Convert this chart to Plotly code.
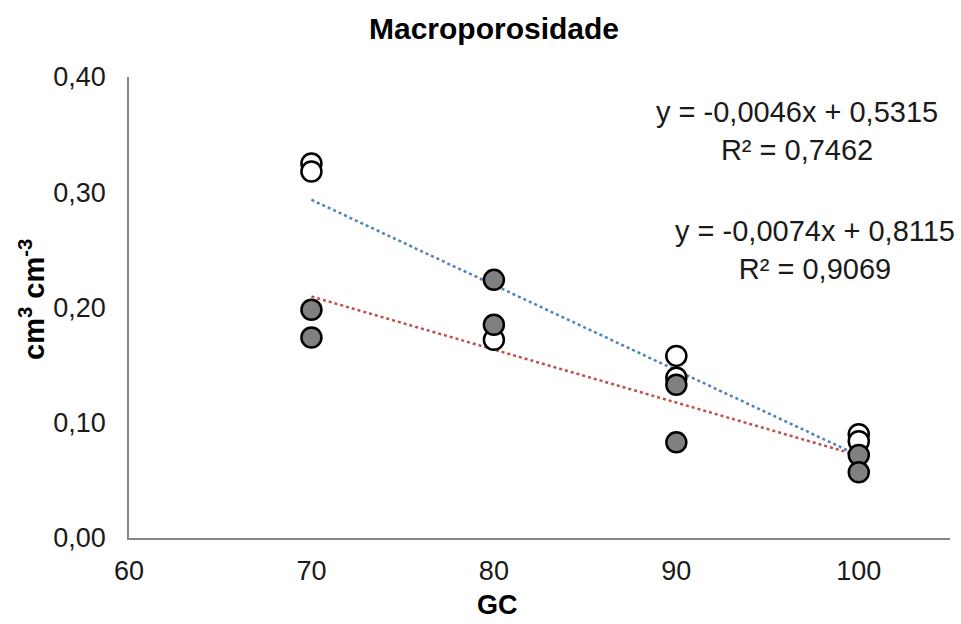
import plotly.graph_objects as go

# Data
gc_open = [70, 70, 80, 90, 90, 100, 100]
macro_open = [0.325, 0.318, 0.172, 0.158, 0.139, 0.090, 0.084]
gc_filled = [70, 70, 80, 80, 90, 90, 100, 100]
macro_filled = [0.198, 0.174, 0.224, 0.185, 0.133, 0.083, 0.072, 0.057]

# Trendline coefficients (from the chart's equations)
trend_x = [70, 100]
blue_slope, blue_intercept = -0.0074, 0.8115
red_slope, red_intercept = -0.0046, 0.5315

eq_red = "y = -0,0046x + 0,5315<br>R² = 0,7462"
eq_blue = "y = -0,0074x + 0,8115<br>R² = 0,9069"

x_ticks = [60, 70, 80, 90, 100]
y_ticks = [0.0, 0.1, 0.2, 0.3, 0.4]
y_tick_labels = ["0,00", "0,10", "0,20", "0,30", "0,40"]

FONT = "Liberation Sans, Arial, sans-serif"
L, R, T, B = 129, 11, 77, 86
W, H = 961, 624
PW, PH = W - L - R, H - T - B

fig = go.Figure()

fig.add_trace(go.Scatter(
    x=trend_x, y=[blue_slope * v + blue_intercept for v in trend_x],
    mode="lines", line=dict(color="#4F81BD", width=2.5, dash="dot"),
    showlegend=False, hoverinfo="skip"))
fig.add_trace(go.Scatter(
    x=trend_x, y=[red_slope * v + red_intercept for v in trend_x],
    mode="lines", line=dict(color="#C0504D", width=2.5, dash="dot"),
    showlegend=False, hoverinfo="skip"))

fig.add_trace(go.Scatter(
    x=gc_open, y=macro_open, mode="markers",
    marker=dict(size=20, color="white", line=dict(color="black", width=2.5)),
    showlegend=False))
fig.add_trace(go.Scatter(
    x=gc_filled, y=macro_filled, mode="markers",
    marker=dict(size=20, color="#808080", line=dict(color="black", width=2.5)),
    showlegend=False))

fig.add_annotation(text=eq_red, xref="paper", yref="paper",
                   x=(797 - L) / PW, y=(H - B - 131) / PH,
                   xanchor="center", yanchor="middle",
                   showarrow=False, align="center",
                   font=dict(family=FONT, size=29, color="#1a1a1a"))
fig.add_annotation(text=eq_blue, xref="paper", yref="paper",
                   x=(815 - L) / PW, y=(H - B - 250) / PH,
                   xanchor="center", yanchor="middle",
                   showarrow=False, align="center",
                   font=dict(family=FONT, size=29, color="#1a1a1a"))

# Axis titles
fig.add_annotation(text="<b>cm<sup>3</sup> cm<sup>-3</sup></b>", xref="paper", yref="paper",
                   x=(32 - L) / PW, y=(H - B - 300) / PH, textangle=-90,
                   xanchor="center", yanchor="middle", showarrow=False,
                   font=dict(family=FONT, size=29, color="black"))
fig.add_annotation(text="<b>GC</b>", xref="paper", yref="paper",
                   x=(497 - L) / PW, y=(H - B - 605) / PH,
                   xanchor="center", yanchor="middle", showarrow=False,
                   font=dict(family=FONT, size=27, color="black"))

fig.update_layout(
    width=W, height=H,
    margin=dict(l=L, r=R, t=T, b=B, autoexpand=False),
    paper_bgcolor="white", plot_bgcolor="white",
    title=dict(text="<b>Macroporosidade</b>", x=494 / W, xanchor="center",
               y=1 - 28 / H, yanchor="middle",
               font=dict(family=FONT, size=30, color="black")),
    xaxis=dict(range=[60, 105], tickvals=x_ticks, showgrid=False, zeroline=False,
               showline=True, linecolor="#868686", linewidth=1.5, ticks="",
               automargin=False,
               tickfont=dict(family=FONT, size=27, color="#1a1a1a"),
               ticklabelstandoff=8),
    yaxis=dict(range=[0, 0.4], tickvals=y_ticks, ticktext=y_tick_labels,
               showgrid=False, zeroline=False, automargin=False,
               showline=True, linecolor="#868686", linewidth=1.5, ticks="",
               tickfont=dict(family=FONT, size=27, color="#1a1a1a"),
               ticklabelstandoff=16),
)

fig.write_html("out.html", config={"displayModeBar": False},
               post_script="document.body.style.margin='0';")
